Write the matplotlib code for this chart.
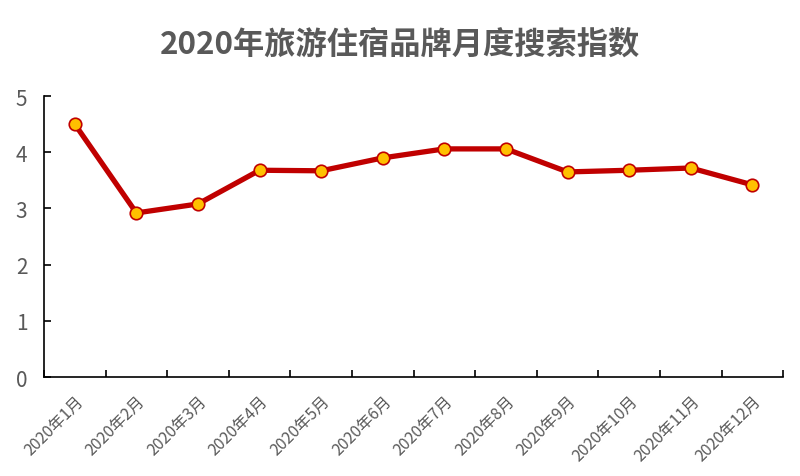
import matplotlib
matplotlib.use('Agg')
import matplotlib.pyplot as plt

plt.rcParams['font.family'] = ['Noto Sans CJK SC', 'DejaVu Sans']

# monthly search index
months = ['2020年%d月' % m for m in range(1, 13)]
values = [4.50, 2.92, 3.08, 3.68, 3.67, 3.90, 4.06, 4.06, 3.65, 3.68, 3.72, 3.42]

gray = '#595959'

fig = plt.figure(figsize=(8, 4.77), dpi=100)
ax = fig.add_axes([0.055, 0.2075, 0.924, 0.589])

x = range(len(months))
ax.plot(x, values, color='#C00000', linewidth=3.8, marker='o', markersize=9,
        markerfacecolor='#FFC000', markeredgecolor='#C00000', markeredgewidth=1.2,
        zorder=3)

ax.set_xlim(-0.5, len(months) - 0.5)
ax.set_ylim(0, 5)
ax.set_yticks([0, 1, 2, 3, 4, 5])
ax.set_xticks([i - 0.5 for i in range(len(months) + 1)], minor=False)
ax.set_xticklabels([])
ax.set_xticks(list(x), minor=True)
ax.set_xticklabels(months, minor=True, rotation=45, ha='right',
                   rotation_mode='anchor', fontsize=11.5, color=gray)
ax.tick_params(axis='x', which='minor', length=0, pad=11)
ax.tick_params(axis='x', which='major', direction='in', length=5, width=1.2)
ax.tick_params(axis='y', direction='in', length=5, width=1.2, labelsize=15,
               labelcolor=gray, pad=12)

for s in ['top', 'right']:
    ax.spines[s].set_visible(False)
for s in ['left', 'bottom']:
    ax.spines[s].set_linewidth(1.2)

fig.suptitle('2020年旅游住宿品牌月度搜索指数', fontsize=22.5, fontweight='bold',
             color=gray, y=0.94)

fig.savefig('out.png', dpi=100)
